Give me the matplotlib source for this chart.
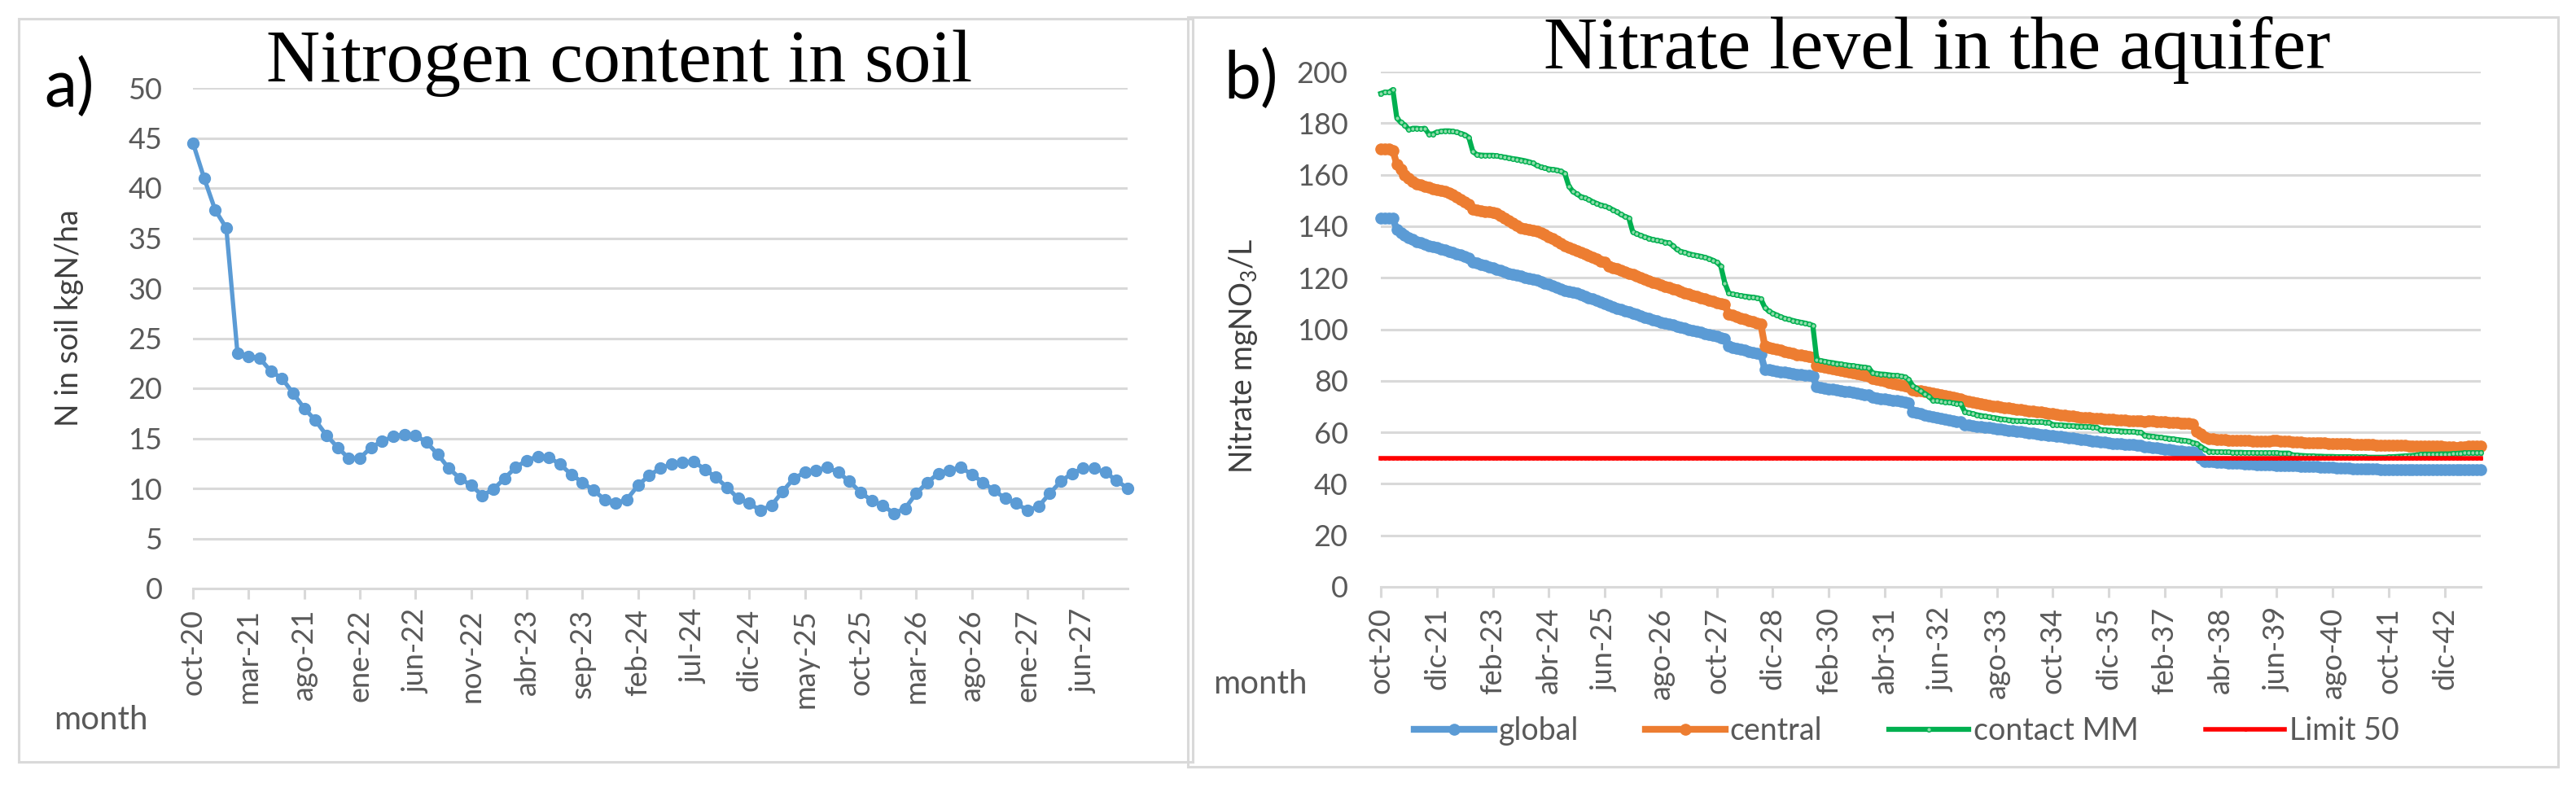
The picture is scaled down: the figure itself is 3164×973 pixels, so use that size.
import matplotlib
matplotlib.use('Agg')
import matplotlib.pyplot as plt
from matplotlib.patches import Rectangle

# ---- data: panel a) nitrogen in soil, one value per month from oct-20
soil_n = [
    44.5, 41.0, 37.8, 36.0, 23.5, 23.2, 23.0, 21.7, 21.0, 19.5, 18.0, 16.8,
    15.3, 14.1, 13.0, 13.0, 14.1, 14.7, 15.2, 15.4, 15.3, 14.6, 13.4, 12.0,
    11.0, 10.3, 9.3, 9.9, 11.0, 12.1, 12.8, 13.2, 13.1, 12.4, 11.4, 10.6,
    9.8, 8.9, 8.5, 8.9, 10.3, 11.3, 12.0, 12.4, 12.6, 12.7, 11.9, 11.1,
    10.1, 9.0, 8.5, 7.8, 8.3, 9.7, 11.0, 11.6, 11.8, 12.1, 11.6, 10.7,
    9.6, 8.8, 8.3, 7.5, 8.0, 9.5, 10.6, 11.5, 11.8, 12.1, 11.4, 10.6,
    9.8, 9.0, 8.5, 7.8, 8.2, 9.5, 10.7, 11.5, 12.0, 12.0, 11.6, 10.8,
    10.0,
]
soil_ticks = ['oct-20', 'mar-21', 'ago-21', 'ene-22', 'jun-22', 'nov-22',
              'abr-23', 'sep-23', 'feb-24', 'jul-24', 'dic-24', 'may-25',
              'oct-25', 'mar-26', 'ago-26', 'ene-27', 'jun-27']

# ---- data: panel b) nitrate in the aquifer, one value per month from oct-20
global_no3 = [
    143, 143, 143, 143, 138.7, 137.5, 136.5, 135.5, 134.8, 134.0, 133.5, 133.0,
    132.5, 132.0, 131.6, 131.2, 130.8, 130.3, 129.8, 129.2, 128.8, 128.3, 127.6, 126.0,
    125.6, 125.2, 124.8, 124.3, 123.8, 123.3, 122.8, 122.3, 121.8, 121.3, 121.0, 120.6,
    120.2, 119.8, 119.4, 119.0, 118.6, 118.0, 117.4, 116.8, 116.2, 115.6, 115.0, 114.6,
    114.3, 114.0, 113.5, 112.9, 112.3, 111.7, 111.1, 110.5, 109.9, 109.3, 108.7, 108.2,
    107.7, 107.2, 106.7, 106.2, 105.7, 105.2, 104.7, 104.2, 103.7, 103.3, 102.8, 102.4,
    102.0, 101.6, 101.2, 100.8, 100.4, 100.0, 99.6, 99.2, 98.8, 98.4, 98.0, 97.6,
    97.2, 96.8, 96.5, 93.5, 93.0, 92.6, 92.2, 91.8, 91.4, 91.0, 90.6, 90.3,
    84.5, 84.3, 84.0, 83.8, 83.5, 83.3, 83.0, 82.8, 82.6, 82.4, 82.2, 82.0,
    81.8, 77.7, 77.4, 77.2, 76.9, 76.7, 76.4, 76.2, 75.9, 75.7, 75.4, 75.2,
    74.9, 74.7, 74.5, 73.5, 73.3, 73.1, 72.9, 72.7, 72.5, 72.3, 72.0, 71.7,
    71.4, 68.0, 67.6, 67.2, 66.8, 66.4, 66.0, 65.7, 65.4, 65.1, 64.8, 64.5,
    64.2, 64.0, 63.0, 62.8, 62.6, 62.4, 62.2, 62.0, 61.8, 61.6, 61.4, 61.2,
    61.0, 60.8, 60.6, 60.4, 60.2, 60.0, 59.8, 59.6, 59.4, 59.2, 59.0, 58.8,
    58.7, 58.5, 58.3, 58.1, 57.9, 57.7, 57.5, 57.3, 57.1, 56.9, 56.7, 56.5,
    56.3, 56.1, 55.9, 55.7, 55.6, 55.5, 55.4, 55.3, 55.2, 55.1, 55.0, 54.5,
    54.3, 54.1, 53.9, 53.7, 53.5, 53.3, 53.1, 52.9, 52.7, 52.6, 52.5, 52.4,
    52.0, 50.0, 48.8, 48.6, 48.5, 48.4, 48.3, 48.2, 48.1, 48.0, 48.0, 47.9,
    47.8, 47.7, 47.6, 47.5, 47.5, 47.4, 47.3, 47.3, 47.2, 47.2, 47.1, 47.1,
    47.0, 47.0, 46.9, 46.9, 46.8, 46.8, 46.7, 46.6, 46.5, 46.4, 46.3, 46.2,
    46.1, 46.0, 46.0, 45.9, 45.9, 45.8, 45.8, 45.7, 45.7, 45.7, 45.6, 45.6,
    45.6, 45.5, 45.5, 45.5, 45.5, 45.4, 45.4, 45.4, 45.5, 45.5, 45.5, 45.6,
    45.6, 45.6, 45.5, 45.5, 45.5, 45.5, 45.5, 45.5, 45.5, 45.5, 45.5, 45.5,
]
central_no3 = [
    170, 170, 170, 169.5, 164, 162, 160, 158.5, 157.5, 156.5, 156, 155.5,
    155, 154.6, 154.2, 153.8, 153.5, 153.0, 152.4, 151.5, 150.5, 149.5, 148.5, 146.5,
    146.2, 146.0, 145.8, 145.6, 145.3, 145.0, 144.2, 143.2, 142.2, 141.2, 140.2, 139.4,
    139.0, 138.8, 138.5, 138.0, 137.4, 136.7, 136.0, 135.2, 134.2, 133.2, 132.4, 131.8,
    131.0, 130.5, 130.0, 129.3, 128.6, 127.9, 127.2, 126.5, 126.0, 124.5, 124.0, 123.5,
    123.0, 122.4, 121.8, 121.2, 120.6, 120.0, 119.4, 118.8, 118.2, 117.7, 117.2, 116.7,
    116.2, 115.7, 115.2, 114.7, 114.2, 113.7, 113.2, 112.7, 112.2, 111.7, 111.2, 110.8,
    110.4, 110.0, 109.6, 106.0, 105.4, 104.9, 104.4, 103.9, 103.4, 102.9, 102.4, 102.0,
    93.5, 93.0, 92.6, 92.2, 91.8, 91.4, 91.0, 90.6, 90.2, 89.9, 89.6, 89.3,
    89.0, 86.0, 85.6, 85.3, 85.0, 84.6, 84.3, 84.0, 83.6, 83.3, 83.0, 82.7,
    82.4, 82.1, 81.8, 81.0, 80.6, 80.2, 79.8, 79.4, 79.0, 78.6, 78.2, 77.9,
    77.6, 76.6, 76.3, 76.0, 75.7, 75.4, 75.1, 74.8, 74.5, 74.2, 73.9, 73.6,
    73.3, 73.0, 72.4, 72.1, 71.8, 71.5, 71.2, 70.9, 70.6, 70.3, 70.0, 69.8,
    69.6, 69.4, 69.2, 69.0, 68.8, 68.6, 68.4, 68.2, 68.0, 67.8, 67.6, 67.4,
    67.2, 67.0, 66.8, 66.6, 66.4, 66.2, 66.0, 65.8, 65.7, 65.6, 65.5, 65.4,
    65.3, 65.2, 65.1, 65.0, 64.9, 64.8, 64.7, 64.6, 64.5, 64.4, 64.3, 64.2,
    64.4, 64.3, 64.2, 64.1, 64.0, 63.9, 63.8, 63.7, 63.6, 63.5, 63.4, 63.3,
    60.5, 59.5, 58.0, 57.6, 57.4, 57.3, 57.2, 57.1, 57.0, 57.0, 56.9, 56.9,
    56.8, 56.8, 56.7, 56.7, 56.6, 56.6, 56.5, 56.8, 56.8, 56.6, 56.5, 56.4,
    56.3, 56.2, 56.1, 56.0, 56.0, 55.9, 55.9, 55.8, 55.8, 55.7, 55.7, 55.6,
    55.6, 55.5, 55.5, 55.4, 55.4, 55.3, 55.3, 55.2, 55.2, 55.1, 55.1, 55.0,
    55.0, 55.0, 54.9, 54.9, 54.9, 54.8, 54.8, 54.8, 54.7, 54.7, 54.7, 54.6,
    54.6, 54.6, 54.5, 54.4, 54.2, 54.0, 54.3, 54.5, 54.6, 54.6, 54.6, 54.6,
]
contact_no3 = [
    191.5, 192, 192, 193, 182, 180.3, 179.3, 177.5, 178, 178, 177.8, 178,
    175.8, 175.8, 176.5, 176.8, 177, 177, 176.8, 176.5, 176, 175.5, 174.5, 169.0,
    167.8, 167.6, 167.5, 167.5, 167.5, 167.3, 167.0, 166.8, 166.5, 166.2, 166.0, 165.7,
    165.4, 165.0, 164.5, 163.6, 163.0, 162.6, 162.2, 162.0, 161.8, 161.3, 160.5, 155.6,
    153.5, 152.5, 151.5, 151.0, 150.3, 149.5, 148.8, 148.2, 147.8, 147.2, 146.4, 145.6,
    144.6, 143.8, 143.2, 137.7, 137.0, 136.4, 135.8, 135.3, 134.8, 134.5, 134.2, 133.8,
    133.5, 132.5, 131.0, 130.2, 129.8, 129.3, 128.9, 128.6, 128.3, 127.9, 127.4, 126.8,
    126.0, 124.5, 118.0, 114.0, 113.6, 113.3, 113.0, 112.8, 112.6, 112.4, 112.2, 111.8,
    108.5, 107.0, 106.2, 105.5, 104.8, 104.2, 103.8, 103.4, 103.0, 102.7, 102.4, 102.0,
    101.5, 88.2, 87.8, 87.5, 87.2, 87.0, 86.7, 86.5, 86.2, 86.0, 85.8, 85.6,
    85.4, 85.2, 85.0, 83.0, 82.8, 82.6, 82.5, 82.3, 82.1, 82.0, 81.8, 81.5,
    80.5, 78.0, 77.0, 76.0, 75.0, 74.0, 72.4, 72.2, 72.0, 71.8, 71.6, 71.4,
    71.2, 71.0, 68.0, 67.6, 67.2, 66.8, 66.5, 66.2, 66.0, 65.7, 65.5, 65.2,
    65.0, 64.8, 64.6, 64.5, 64.4, 64.3, 64.2, 64.1, 64.0, 64.0, 63.9, 63.8,
    63.0, 62.9, 62.8, 62.7, 62.6, 62.5, 62.4, 62.3, 62.2, 62.1, 62.0, 61.9,
    61.0, 60.9, 60.8, 60.7, 60.6, 60.5, 60.4, 60.3, 60.2, 60.1, 60.0, 58.8,
    58.6, 58.4, 58.2, 58.0, 57.8, 57.6, 57.4, 57.2, 57.0, 56.8, 56.6, 56.0,
    55.6, 54.5, 53.5, 52.6, 52.5, 52.4, 52.4, 52.3, 52.3, 52.2, 52.2, 52.2,
    52.1, 52.1, 52.1, 52.0, 52.0, 52.0, 52.0, 52.0, 52.0, 51.9, 51.9, 51.9,
    51.2, 51.1, 51.0, 50.9, 50.8, 50.8, 50.7, 50.7, 50.6, 50.6, 50.6, 50.5,
    50.5, 50.5, 50.5, 50.4, 50.4, 50.4, 50.4, 50.3, 50.3, 50.3, 50.3, 50.3,
    50.4, 50.5, 50.6, 50.7, 50.8, 50.9, 51.0, 51.2, 51.4, 51.5, 51.5, 51.5,
    51.5, 51.6, 51.6, 51.6, 51.7, 51.8, 51.9, 52.0, 52.0, 52.0, 52.0, 52.0,
]
limit_value = 50
aquifer_ticks = ['oct-20', 'dic-21', 'feb-23', 'abr-24', 'jun-25', 'ago-26',
                 'oct-27', 'dic-28', 'feb-30', 'abr-31', 'jun-32', 'ago-33',
                 'oct-34', 'dic-35', 'feb-37', 'abr-38', 'jun-39', 'ago-40',
                 'oct-41', 'dic-42']
series_names = ['global', 'central', 'contact MM', 'Limit 50']

# ---- figure setup (pixel based layout)
W, H = 3164, 973
plt.rcParams['font.family'] = ['Lato', 'DejaVu Sans']
plt.rcParams['mathtext.fontset'] = 'custom'
plt.rcParams['mathtext.rm'] = 'Lato'
plt.rcParams['mathtext.it'] = 'Lato:italic'

GRID = '#D9D9D9'
LABEL = '#595959'
BLUE = '#5B9BD5'
ORANGE = '#ED7D31'
GREEN = '#00B050'
RED = '#FF0000'

fig = plt.figure(figsize=(W / 100, H / 100), dpi=100)


def fx(x):
    return x / W


def fy(y):
    return 1 - y / H


def panel_frame(x0, y0, x1, y1):
    fig.add_artist(Rectangle((fx(x0), fy(y1)), fx(x1 - x0), (y1 - y0) / H,
                             transform=fig.transFigure, fill=False,
                             ec=GRID, lw=2.2))


def style_axes(ax, ymax, ystep, n_points, step, labels, ypad):
    ax.set_xlim(0, n_points - 1)
    ax.set_ylim(0, ymax)
    ax.set_yticks(range(0, ymax + 1, ystep))
    ax.set_xticks(range(0, step * len(labels), step))
    ax.set_xticklabels(labels)
    ax.yaxis.grid(True, color=GRID, lw=2.2)
    ax.set_axisbelow(True)
    for s in ['top', 'right', 'left']:
        ax.spines[s].set_visible(False)
    ax.spines['bottom'].set_color(GRID)
    ax.spines['bottom'].set_linewidth(2.2)
    ax.tick_params(axis='y', length=0, pad=ypad, labelsize=26, labelcolor=LABEL)
    ax.tick_params(axis='x', length=9, width=2.2, color=GRID, pad=9,
                   labelsize=26, labelcolor=LABEL, labelrotation=90)


panel_frame(23, 23, 1465, 936)
panel_frame(1459, 21, 3142, 942)

# ---- panel a)
ax1 = fig.add_axes([fx(237), fy(723), fx(1385 - 237), (723 - 108) / H])
ax1.plot(range(len(soil_n)), soil_n, color=BLUE, lw=3.8, marker='o',
         ms=10, clip_on=False, zorder=3)
style_axes(ax1, 50, 5, len(soil_n), 5, soil_ticks, 27)

fig.text(fx(54), fy(107), 'a)', fontsize=58, color='black', va='center', ha='left')
fig.text(fx(327), fy(100), 'Nitrogen content in soil', family='Liberation Serif',
         fontsize=66, va='baseline', ha='left')
fig.text(fx(85), fy(391), 'N in soil kgN/ha', rotation=90, fontsize=27,
         color='#404040', va='center', ha='center')
fig.text(fx(66), fy(885), 'month', fontsize=29, color=LABEL, va='center', ha='left')

# ---- panel b)
ax2 = fig.add_axes([fx(1696), fy(721), fx(3047 - 1696), (721 - 88) / H])
months = range(len(global_no3))
ax2.plot(months, global_no3, color=BLUE, lw=6, marker='o', ms=9.5,
         clip_on=False, label=series_names[0], zorder=3)
ax2.plot(months, central_no3, color=ORANGE, lw=6, marker='o', ms=9.5,
         clip_on=False, label=series_names[1], zorder=4)
ax2.plot(months, contact_no3, color=GREEN, lw=4.5, marker='o', ms=4,
         mfc='#8fdcaa', mec=GREEN, mew=1, clip_on=False,
         label=series_names[2], zorder=5)
ax2.plot(months, [limit_value] * len(global_no3), color=RED, lw=4,
         marker='o', ms=2.5, clip_on=False, label=series_names[3], zorder=6)
style_axes(ax2, 200, 20, len(global_no3), 14, aquifer_ticks, 29)

fig.text(fx(1503), fy(97), 'b)', fontsize=58, color='black', va='center', ha='left')
fig.text(fx(1896), fy(84), 'Nitrate level in the aquifer', family='Liberation Serif',
         fontsize=66, va='baseline', ha='left')
fig.text(fx(1527), fy(437), 'Nitrate mgNO$_3$/L', rotation=90, fontsize=27,
         color='#404040', va='center', ha='center')
fig.text(fx(1490), fy(840), 'month', fontsize=29, color=LABEL, va='center', ha='left')

handles, labels = ax2.get_legend_handles_labels()
leg = fig.legend(handles, labels, loc='center', bbox_to_anchor=(fx(2342), fy(898)),
                 ncol=4, frameon=False, fontsize=27, handlelength=2.6,
                 columnspacing=2.2, handletextpad=0.15)
for t in leg.get_texts():
    t.set_color(LABEL)

fig.savefig('out.png', dpi=100)
